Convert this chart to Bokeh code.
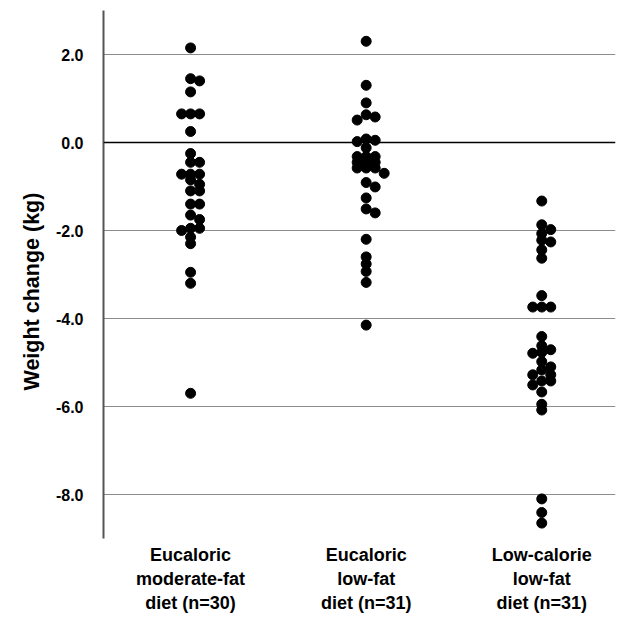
import numpy as np
from bokeh.plotting import figure
from bokeh.models import Range1d, FixedTicker, Span, Title
from bokeh.embed import file_html
from bokeh.resources import INLINE

# ---- data -------------------------------------------------------------
group_labels = [
    "Eucaloric\nmoderate-fat\ndiet (n=30)",
    "Eucaloric\nlow-fat\ndiet (n=31)",
    "Low-calorie\nlow-fat\ndiet (n=31)",
]
eucaloric_moderate_fat = [
    2.15, 1.45, 1.40, 1.15, 0.65, 0.65, 0.65, 0.25, -0.25, -0.45,
    -0.45, -0.72, -0.72, -0.72, -0.85, -0.95, -1.10, -1.10, -1.40, -1.40,
    -1.65, -1.75, -1.95, -1.95, -2.00, -2.15, -2.30, -2.95, -3.20, -5.70,
]
eucaloric_low_fat = [
    2.30, 1.30, 0.90, 0.63, 0.58, 0.51, 0.08, 0.05, 0.02, -0.12,
    -0.32, -0.32, -0.32, -0.45, -0.45, -0.45, -0.58, -0.58, -0.58, -0.70,
    -0.91, -1.01, -1.26, -1.51, -1.60, -2.20, -2.60, -2.76, -2.93, -3.18,
    -4.15,
]
low_calorie_low_fat = [
    -1.33, -1.87, -1.98, -2.07, -2.22, -2.26, -2.44, -2.63, -3.48, -3.74,
    -3.74, -3.74, -4.41, -4.62, -4.71, -4.77, -4.79, -4.98, -5.10, -5.17,
    -5.28, -5.28, -5.42, -5.42, -5.51, -5.67, -5.95, -6.08, -8.10, -8.41,
    -8.65,
]
y_ticks = [2, 0, -2, -4, -6, -8]
y_tick_labels = ["2.0", "0.0", "-2.0", "-4.0", "-6.0", "-8.0"]
y_title = "Weight change (kg)"

# ---- layout -----------------------------------------------------------
W, H = 620, 618
BL, BR, BT, BB = 103, 5, 10, 80
x0, x1 = 0.504, 3.42
y0, y1 = -9.0, 3.0
fw = W - BL - BR
fh = H - BT - BB
px_x = fw / (x1 - x0)
px_y = fh / (y1 - y0)

DOT = 10.0      # dot diameter in px
STEP = 9.0      # column step in px
MIN_DY = 5.5    # minimal vertical gap in one column (dots may overlap)


def swarm(values, center):
    """Deterministic dot-plot layout: place each dot in the nearest free column."""
    order = np.argsort(-np.asarray(values), kind="stable")
    placed = {}
    xs = np.zeros(len(values))
    for i in order:
        v = values[i]
        for col in [0, 1, -1, 2, -2, 3, -3]:
            if all(abs(v - w) * px_y >= MIN_DY for w in placed.get(col, [])):
                placed.setdefault(col, []).append(v)
                xs[i] = center + col * STEP / px_x
                break
    return xs


all_series = [eucaloric_moderate_fat, eucaloric_low_fat, low_calorie_low_fat]

p = figure(
    width=W, height=H,
    x_range=Range1d(x0, x1), y_range=Range1d(y0, y1),
    output_backend="svg", toolbar_location=None,
    min_border_left=BL, min_border_right=BR,
    min_border_top=BT, min_border_bottom=BB,
)
p.outline_line_color = None
p.background_fill_color = "white"
p.border_fill_color = "white"

# grid
p.xgrid.grid_line_color = None
p.ygrid.ticker = FixedTicker(ticks=[t for t in y_ticks if t != 0])
p.ygrid.grid_line_color = "#8c8c8c"
p.ygrid.grid_line_width = 1.2
p.add_layout(Span(location=0, dimension="width", line_color="black", line_width=1.6))

# y axis
p.yaxis.ticker = FixedTicker(ticks=y_ticks)
p.yaxis.major_label_overrides = {t: l for t, l in zip(y_ticks, y_tick_labels)}
p.yaxis.major_label_text_font = "Liberation Sans"
p.yaxis.major_label_text_font_style = "bold"
p.yaxis.major_label_text_font_size = "16px"
p.yaxis.major_label_text_color = "black"
p.yaxis.major_label_standoff = 14
p.yaxis.major_tick_line_color = None
p.yaxis.minor_tick_line_color = None
p.yaxis.axis_line_color = "#555555"
p.yaxis.axis_line_width = 2

# y title as a side title (starts above the frame bottom, as in the original)
p.add_layout(Title(
    text=y_title, align="left", offset=148, standoff=17,
    text_font="Liberation Sans", text_font_style="bold", text_font_size="21.5px",
    text_color="black",
), "left")

# x axis
p.xaxis.ticker = FixedTicker(ticks=[1, 2, 3])
p.xaxis.major_label_overrides = {i + 1: l for i, l in enumerate(group_labels)}
p.xaxis.major_label_text_font = "Liberation Sans"
p.xaxis.major_label_text_font_style = "bold"
p.xaxis.major_label_text_font_size = "18px"
p.xaxis.major_label_text_color = "black"
p.xaxis.major_label_standoff = 0
p.xaxis.major_tick_line_color = None
p.xaxis.minor_tick_line_color = None
p.xaxis.axis_line_color = None

for k, vals in enumerate(all_series):
    xs = swarm(vals, k + 1)
    p.scatter(xs, vals, size=DOT, color="black", line_color="black")

open("out.html", "w").write(file_html(p, INLINE))
